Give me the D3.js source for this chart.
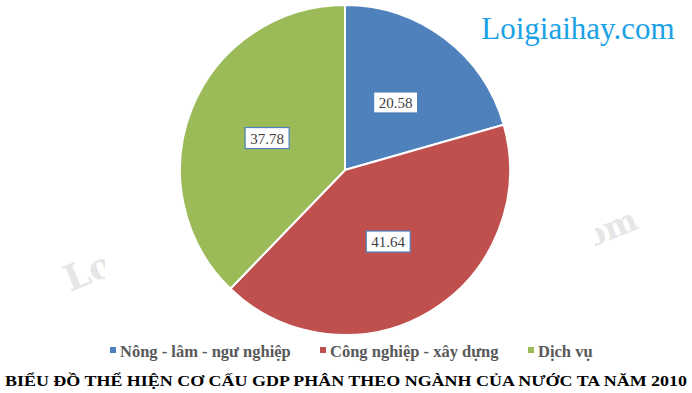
<!DOCTYPE html>
<html><head><meta charset="utf-8">
<script src="https://cdn.jsdelivr.net/npm/d3@7"></script>
<style>body{margin:0;background:#fff}svg{display:block}</style>
</head><body>
<svg id="c" width="692" height="393"></svg>
<script>
const categories = ["Nông - lâm - ngư nghiệp", "Công nghiệp - xây dựng", "Dịch vụ"];
const values = [20.58, 41.64, 37.78];
const colors = ["#4f81bd", "#c0504d", "#9bbb59"];
const title = "BIỂU ĐỒ THỂ HIỆN CƠ CẤU GDP PHÂN THEO NGÀNH CỦA NƯỚC TA NĂM 2010";

const svg = d3.select("#c");
const cx = 345, cy = 170, R = 165;

// watermark fragments (clipped like the reference)
const defs = svg.append("defs");
defs.append("clipPath").attr("id", "wmL").append("rect").attr("x", 0).attr("y", 200).attr("width", 105).attr("height", 120);
defs.append("clipPath").attr("id", "wmR").append("rect").attr("x", 595).attr("y", 180).attr("width", 97).attr("height", 90);
svg.append("g").attr("clip-path", "url(#wmL)").append("text")
  .attr("transform", "translate(70,292) rotate(-22)")
  .attr("font-family", "DejaVu Serif").attr("font-weight", "bold")
  .attr("font-size", 36).attr("fill", "#e6e6e6").text("Loi");
svg.append("g").attr("clip-path", "url(#wmR)").append("text")
  .attr("transform", "translate(640,228) rotate(-22)")
  .attr("text-anchor", "end")
  .attr("font-family", "DejaVu Serif").attr("font-weight", "bold")
  .attr("font-size", 32).attr("fill", "#e6e6e6").text(".com");

const pie = d3.pie().sort(null).value(d => d);
const arcs = pie(values);
const arc = d3.arc().innerRadius(0).outerRadius(R);
const labelArc = d3.arc().innerRadius(84).outerRadius(84);

const g = svg.append("g").attr("transform", `translate(${cx},${cy})`);
g.selectAll("path").data(arcs).join("path")
  .attr("d", arc).attr("fill", (d, i) => colors[i])
  .attr("stroke", "#fff").attr("stroke-width", 2);

const lab = g.selectAll("g.lab").data(arcs).join("g").attr("class", "lab")
  .attr("transform", d => `translate(${labelArc.centroid(d)})`);
lab.append("rect").attr("x", -22).attr("y", -11).attr("width", 44).attr("height", 21)
  .attr("fill", "#fff").attr("stroke", "#4f81bd").attr("stroke-width", 1.2);
lab.append("text").attr("text-anchor", "middle").attr("dy", "0.35em")
  .attr("font-family", "Liberation Serif").attr("font-size", 15).attr("fill", "#404040")
  .text(d => d.data.toFixed(2));

// logo
svg.append("text").attr("x", 578).attr("y", 39).attr("text-anchor", "middle")
  .attr("font-family", "Liberation Serif").attr("font-size", 31).attr("fill", "#1ba1e6")
  .text("Loigiaihay.com");

// legend
const legX = [110, 320, 528];
const leg = svg.selectAll("g.leg").data(categories).join("g").attr("class", "leg")
  .attr("transform", (d, i) => `translate(${legX[i]},351)`);
leg.append("rect").attr("x", 0).attr("y", -4).attr("width", 6).attr("height", 6)
  .attr("fill", (d, i) => colors[i]);
leg.append("text").attr("x", 10).attr("y", 0).attr("dy", "0.35em")
  .attr("font-family", "Liberation Serif").attr("font-weight", "bold").attr("font-size", 16.5)
  .attr("fill", "#595959").text(d => d);

// title
svg.append("text").attr("x", 346).attr("y", 386).attr("text-anchor", "middle")
  .attr("font-family", "Liberation Serif").attr("font-weight", "bold").attr("font-size", 15)
  .attr("fill", "#000").attr("textLength", 682).attr("lengthAdjust", "spacingAndGlyphs")
  .text(title);
</script>
</body></html>
